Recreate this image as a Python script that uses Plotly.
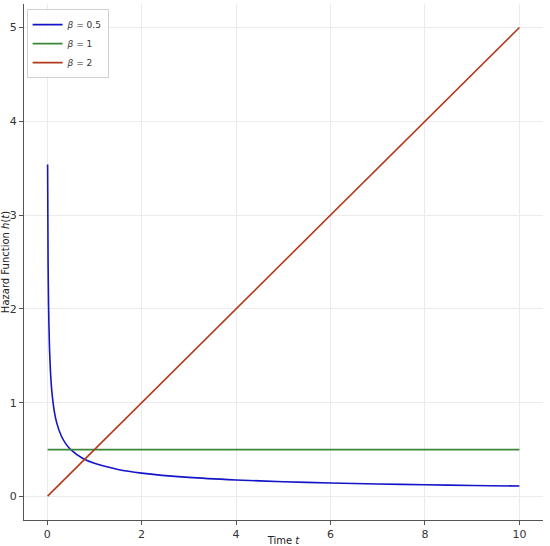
import plotly.graph_objects as go

# Data
t_half = [0.01, 0.02, 0.03, 0.05, 0.075, 0.1, 0.15, 0.2, 0.3, 0.4, 0.5, 0.75, 1.0,
          1.5, 2.0, 3.0, 4.0, 5.0, 6.0, 7.0, 8.0, 9.0, 10.0]
h_half = [3.54, 2.50, 2.04, 1.58, 1.29, 1.12, 0.913, 0.791, 0.645, 0.559, 0.50, 0.408, 0.354,
          0.289, 0.25, 0.204, 0.177, 0.158, 0.144, 0.134, 0.125, 0.118, 0.112]
t_one = [0.01, 10.0]
h_one = [0.5, 0.5]
t_two = [0.01, 10.0]
h_two = [0.005, 5.0]

names = ["<i>β</i> = 0.5", "<i>β</i> = 1", "<i>β</i> = 2"]
colors = ["#1414c8", "#3a873a", "#b3391c"]
x_ticks = [0, 2, 4, 6, 8, 10]
y_ticks = [0, 1, 2, 3, 4, 5]

fig = go.Figure()
for xs, ys, nm, c in zip([t_half, t_one, t_two], [h_half, h_one, h_two], names, colors):
    fig.add_trace(go.Scatter(x=xs, y=ys, mode="lines", name=nm,
                             line=dict(color=c, width=1.6, shape="spline", smoothing=0.6)))

axis_common = dict(
    showgrid=True, gridcolor="#ebebeb", gridwidth=1,
    zeroline=False, showline=True, linecolor="#555555", linewidth=1.2,
    ticks="outside", ticklen=4, tickcolor="#555555",
    tickfont=dict(family="DejaVu Sans", size=11, color="#333333"),
    mirror=False, automargin=False,
)

fig.update_layout(
    width=550, height=546,
    margin=dict(l=24, r=7, t=4, b=26),
    plot_bgcolor="white", paper_bgcolor="white",
    font=dict(family="DejaVu Sans", size=11, color="#222222"),
    xaxis=dict(range=[-0.49, 10.5], tickvals=x_ticks,
               title=dict(text="Time <i>t</i>", font=dict(size=10), standoff=0),
               **axis_common),
    yaxis=dict(range=[-0.25, 5.25], tickvals=y_ticks,
               title=dict(text="Hazard Function <i>h</i>(<i>t</i>)", font=dict(size=10), standoff=2),
               **axis_common),
    legend=dict(x=0.005, y=0.99, xanchor="left", yanchor="top",
                bgcolor="rgba(255,255,255,0.9)", bordercolor="#d0d0d0", borderwidth=1,
                font=dict(size=9, color="#333333"), tracegroupgap=0,
                itemwidth=30),
    showlegend=True,
)

fig.write_html("out.html", config={"displayModeBar": False},
               post_script="document.body.style.margin='0px';document.body.style.overflow='hidden';")
